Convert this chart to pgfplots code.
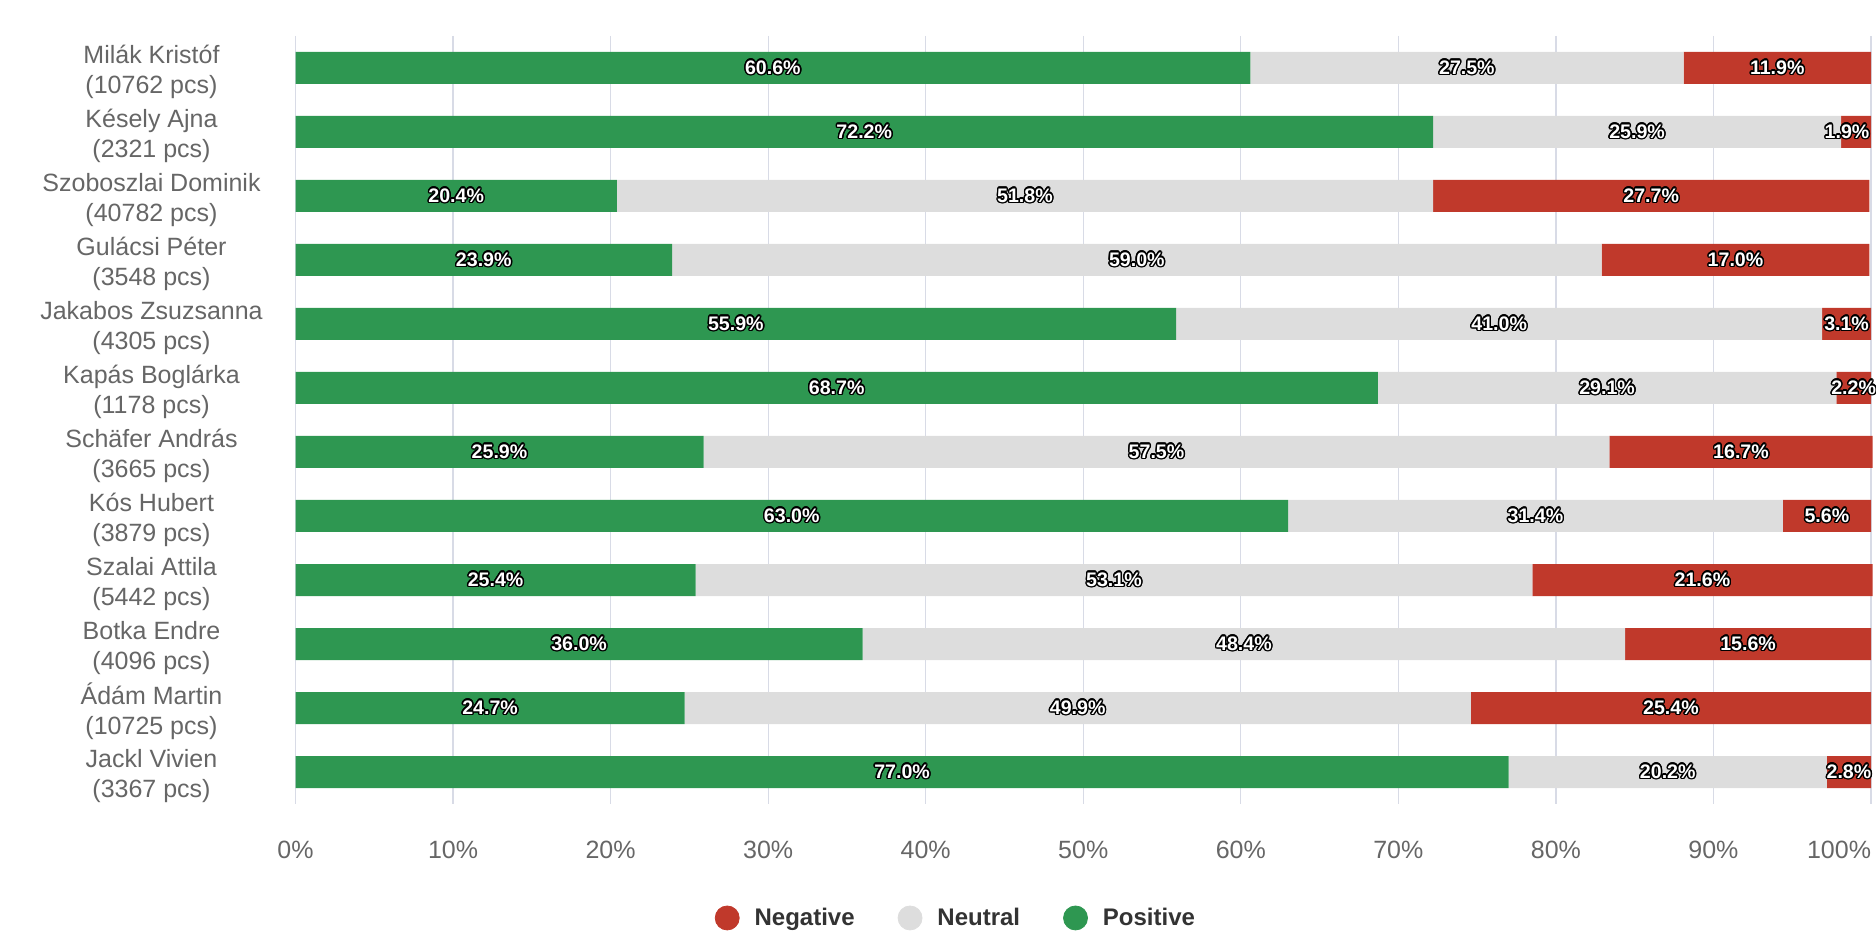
\documentclass[border=0pt]{standalone}
\usepackage{pgfplots}
\pgfplotsset{compat=1.18}
\usepackage{pgfplotstable}
\usepackage{fontspec}
\setmainfont{Liberation Sans}
\usepackage{contour}
\contourlength{0.7pt}
\definecolor{posc}{HTML}{2E9751}
\definecolor{neuc}{HTML}{DDDDDD}
\definecolor{negc}{HTML}{C0392B}
\definecolor{gridc}{HTML}{D8DBE6}
\definecolor{labc}{HTML}{666666}
\definecolor{legc}{HTML}{333333}
\pgfplotstableread{
idx pos neu neg
0 60.6 27.5 11.9
1 72.2 25.9 1.9
2 20.4 51.8 27.7
3 23.9 59.0 17.0
4 55.9 41.0 3.1
5 68.7 29.1 2.2
6 25.9 57.5 16.7
7 63.0 31.4 5.6
8 25.4 53.1 21.6
9 36.0 48.4 15.6
10 24.7 49.9 25.4
11 77.0 20.2 2.8
}\datatable
\begin{document}
\begin{tikzpicture}
\useasboundingbox (0,0) rectangle (938pt,476pt);
\begin{axis}[
  at={(147.75pt,74pt)}, anchor=south west,
  scale only axis, width=787.75pt, height=384pt,
  xbar stacked, bar width=16pt,
  xmin=0, xmax=100, ymin=-0.5, ymax=11.5,
  y dir=reverse, clip=false,
  axis line style={draw=none},
  major tick length=0pt,
  xmajorgrids, grid style={gridc, line width=0.6pt},
  xtick={0,10,...,100},
  xticklabels={0\%,10\%,20\%,30\%,40\%,50\%,60\%,70\%,80\%,90\%,\makebox[0pt][r]{100\%}},
  xticklabel style={anchor=center, yshift=-23pt, font=\fontsize{12.5}{15}\selectfont, text=labc},
  ytick={0,...,11},
  yticklabels={{Milák Kristóf\\(10762 pcs)},{Késely Ajna\\(2321 pcs)},{Szoboszlai Dominik\\(40782 pcs)},{Gulácsi Péter\\(3548 pcs)},{Jakabos Zsuzsanna\\(4305 pcs)},{Kapás Boglárka\\(1178 pcs)},{Schäfer András\\(3665 pcs)},{Kós Hubert\\(3879 pcs)},{Szalai Attila\\(5442 pcs)},{Botka Endre\\(4096 pcs)},{Ádám Martin\\(10725 pcs)},{Jackl Vivien\\(3367 pcs)}},
  yticklabel style={anchor=center, align=center, xshift=-72pt, yshift=-1.8pt, font=\fontsize{12.5}{15}\selectfont, text=labc},
  point meta=explicit symbolic,
  nodes near coords={\contour{black}{\pgfplotspointmeta\%}},
  every node near coord/.append style={anchor=center, text=white, font=\fontsize{9.8}{11}\selectfont\bfseries, xshift={-4.5pt*(\pgfplotspointmeta<2)}},
  legend style={at={(0.4198,-0.1484)}, anchor=center, draw=none, fill=none,
    legend columns=-1, font=\fontsize{12}{14}\selectfont\bfseries, text=legc,
    /tikz/every odd column/.append style={column sep=5.5pt},
    /tikz/every even column/.append style={column sep=19.5pt},
    nodes={inner sep=2pt}},
]
\addlegendimage{legend image code/.code={\fill[negc] (6pt,0pt) circle (6pt);}}
\addlegendentry{Negative}
\addlegendimage{legend image code/.code={\fill[neuc] (6pt,0pt) circle (6pt);}}
\addlegendentry{Neutral}
\addlegendimage{legend image code/.code={\fill[posc] (6pt,0pt) circle (6pt);}}
\addlegendentry{Positive}
\addplot[fill=posc, draw=none] table[x=pos, y=idx, meta=pos] {\datatable};
\addplot[fill=neuc, draw=none] table[x=neu, y=idx, meta=neu] {\datatable};
\addplot[fill=negc, draw=none] table[x=neg, y=idx, meta=neg] {\datatable};
\end{axis}
\end{tikzpicture}
\end{document}
